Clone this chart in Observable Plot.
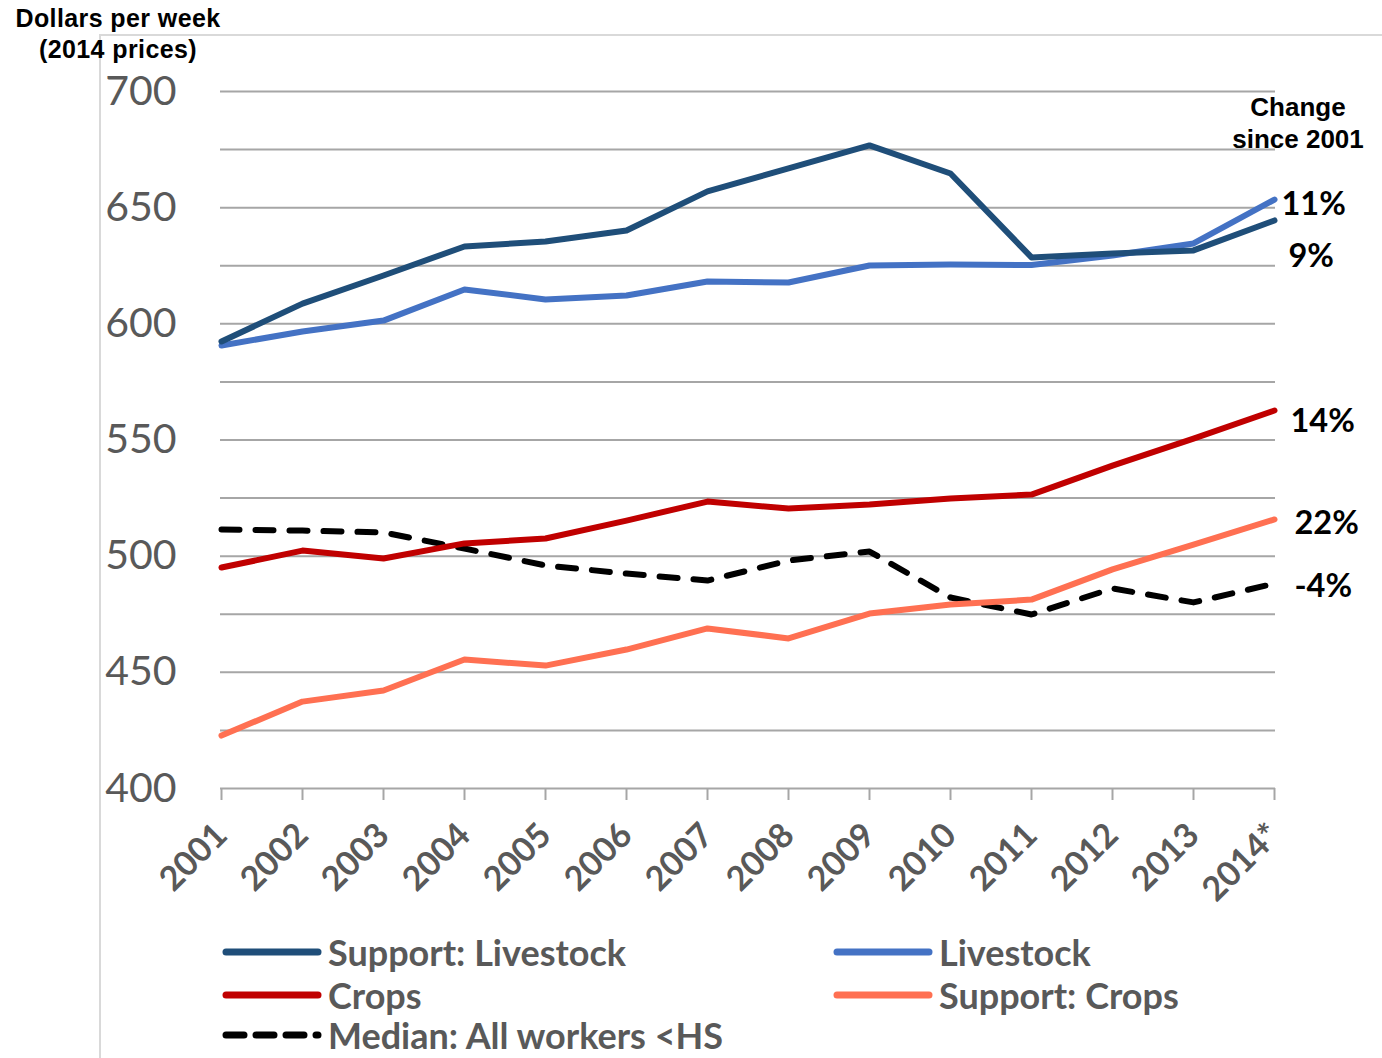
<!DOCTYPE html>
<html>
<head>
<meta charset="utf-8">
<script src="https://cdn.jsdelivr.net/npm/d3@7"></script>
<script src="https://cdn.jsdelivr.net/npm/@observablehq/plot@0.6"></script>
<style>
  html, body { margin: 0; padding: 0; background: #fff; }
  #wrap { position: relative; width: 1382px; height: 1058px; overflow: hidden; background: #fff; }
  #frame { position: absolute; left: 99px; top: 34px; width: 1290px; height: 1100px;
           border-left: 2px solid #d9d9d9; border-top: 2px solid #d9d9d9; }
  #chart { position: absolute; left: 0; top: 0; }
  #chart svg { overflow: visible; }
  .ytitle { position: absolute; left: 0; top: 3px; width: 236px; text-align: center;
            font: bold 25px "Liberation Sans", Arial, sans-serif; color: #000; line-height: 31px; letter-spacing: 0.4px; }
  .change { position: absolute; left: 1218px; top: 91px; width: 160px; text-align: center;
            font: bold 26px "Liberation Sans", Arial, sans-serif; color: #000; line-height: 32px; }
  .legend { position: absolute; font: bold 36px Lato, sans-serif; color: #595959; }
  .legend .item { position: absolute; display: flex; align-items: center; white-space: nowrap; line-height: 34px; }
  .legend svg { margin-right: 6px; }
</style>
</head>
<body>
<div id="wrap">
  <div id="frame"></div>
  <div id="chart"></div>
  <div class="ytitle">Dollars per week<br>(2014 prices)</div>
  <div class="change">Change<br>since 2001</div>
  <div class="legend" id="legend"></div>
</div>
<script>
// ---- data ----
const years = ["2001","2002","2003","2004","2005","2006","2007","2008","2009","2010","2011","2012","2013","2014*"];
const supportLivestock = [592.4, 608.7, 620.8, 633.3, 635.4, 640.2, 657.0, 666.9, 676.8, 664.7, 628.6, 630.3, 631.6, 644.5];
const livestock        = [590.7, 596.7, 601.4, 614.8, 610.5, 612.2, 618.2, 617.8, 625.1, 625.5, 625.3, 629.4, 634.6, 653.5];
const crops            = [495.1, 502.4, 499.0, 505.5, 507.6, 515.3, 523.5, 520.5, 522.2, 524.8, 526.5, 539.0, 550.6, 562.7];
const supportCrops     = [422.8, 437.4, 442.2, 455.5, 452.9, 459.8, 468.9, 464.6, 475.3, 479.2, 481.3, 494.3, 505.0, 515.8];
const medianAll        = [511.5, 511.0, 510.2, 503.3, 496.0, 492.5, 489.5, 498.1, 502.0, 482.2, 474.9, 486.1, 480.1, 488.2];
const seriesNames  = ["Support: Livestock", "Livestock", "Crops", "Support: Crops", "Median: All workers <HS"];
const changeLabels = ["9%", "11%", "14%", "22%", "-4%"];
const yTicks = [400, 450, 500, 550, 600, 650, 700];
const gridTicks = [425, 450, 475, 500, 525, 550, 575, 600, 625, 650, 675, 700];

// styles (not data)
const styles = {
  "Support: Livestock":      {stroke: "#1F4E79", dash: null},
  "Livestock":               {stroke: "#4472C4", dash: null},
  "Crops":                   {stroke: "#C00000", dash: null},
  "Support: Crops":          {stroke: "#FF7052", dash: null},
  "Median: All workers <HS": {stroke: "#000000", dash: "18,16"}
};
const labelOffsets = {
  "Support: Livestock": {dx: 14, dy: 36},
  "Livestock": {dx: 7, dy: 5},
  "Crops": {dx: 16, dy: 11},
  "Support: Crops": {dx: 20, dy: 4},
  "Median: All workers <HS": {dx: 20, dy: 3}
};

const valuesBySeries = [supportLivestock, livestock, crops, supportCrops, medianAll];
const rows = [];
seriesNames.forEach((s, i) => years.forEach((y, j) => rows.push({series: s, year: y, value: valuesBySeries[i][j]})));

const lineOrder = ["Median: All workers <HS", "Support: Crops", "Crops", "Livestock", "Support: Livestock"];
const lineMarks = lineOrder.map(s => Plot.line(rows.filter(r => r.series === s), {
  x: "year", y: "value", stroke: styles[s].stroke, strokeWidth: 6,
  strokeDasharray: styles[s].dash || undefined,
  strokeLinecap: "round", strokeLinejoin: "round", curve: "linear"
}));

const labelMarks = seriesNames.map((s, i) => Plot.text([{year: years[years.length-1], value: valuesBySeries[i][years.length-1], label: changeLabels[i]}], {
  x: "year", y: "value", text: "label", textAnchor: "start",
  dx: labelOffsets[s].dx, dy: labelOffsets[s].dy,
  fontSize: 32.5, fontWeight: "bold", fill: "#000", fontFamily: "Lato, sans-serif"
}));

const chart = Plot.plot({
  width: 1382, height: 920,
  marginLeft: 220, marginRight: 107, marginTop: 91, marginBottom: 132,
  x: {type: "point", domain: years, padding: 0},
  y: {domain: [400, 700]},
  style: {fontFamily: "Lato, sans-serif", background: "transparent"},
  marks: [
    Plot.gridY(gridTicks, {stroke: "#a6a6a6", strokeOpacity: 1, strokeWidth: 2}),
    Plot.ruleY([400], {stroke: "#a6a6a6", strokeWidth: 2}),
    Plot.axisY(yTicks, {tickSize: 0, tickPadding: 44, fontSize: 41, fill: "#595959", label: null, fontFamily: "Lato, sans-serif"}),
    Plot.axisX({tickSize: 12, tickPadding: 29, tickRotate: -45, fontSize: 34, fontWeight: "bold", fill: "#595959", stroke: "#a6a6a6", strokeWidth: 2, label: null, fontFamily: "Lato, sans-serif"}),
    ...lineMarks,
    ...labelMarks
  ]
});
document.getElementById("chart").appendChild(chart);

// legend
const legendPos = [
  {s: "Support: Livestock", left: 222, top: 952},
  {s: "Livestock", left: 833, top: 952},
  {s: "Crops", left: 222, top: 995},
  {s: "Support: Crops", left: 833, top: 995},
  {s: "Median: All workers <HS", left: 222, top: 1035}
];
const leg = document.getElementById("legend");
legendPos.forEach(p => {
  const st = styles[p.s];
  const item = document.createElement("div");
  item.className = "item";
  item.style.left = p.left + "px";
  item.style.top = (p.top - 17) + "px";
  item.style.height = "34px";
  const dash = st.dash ? ` stroke-dasharray="18,12"` : "";
  item.innerHTML = `<svg width="100" height="12"><line x1="4" y1="6" x2="96" y2="6" stroke="${st.stroke}" stroke-width="7" stroke-linecap="round"${dash}/></svg><span>${p.s.replace("<", "&lt;")}</span>`;
  leg.appendChild(item);
});
</script>
</body>
</html>
